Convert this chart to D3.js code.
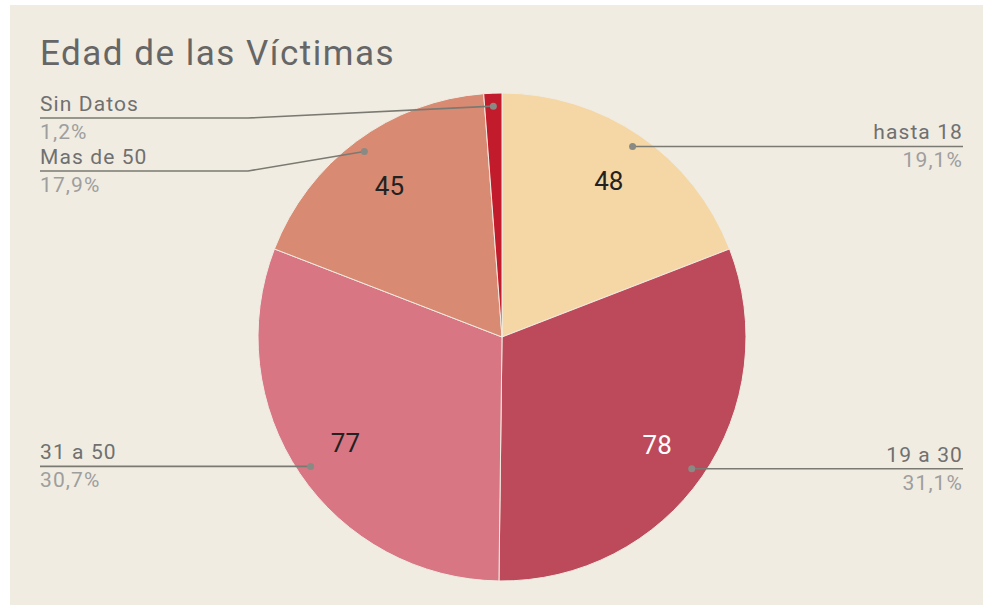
<!DOCTYPE html>
<html>
<head>
<meta charset="utf-8">
<script src="https://cdn.jsdelivr.net/npm/d3@7"></script>
<style>
  html, body { margin: 0; padding: 0; background: #ffffff; }
  svg { display: block; font-family: Roboto, "Open Sans", sans-serif; }
</style>
</head>
<body>
<div id="chart"></div>
<script>
// chart data
const categories = ["hasta 18", "19 a 30", "31 a 50", "Mas de 50", "Sin Datos"];
const values = [48, 78, 77, 45, 3];
const colors = ["#f5d7a6", "#bd4a5a", "#d97684", "#d98a72", "#c21b2c"];
const valueTextColors = ["#222222", "#ffffff", "#222222", "#222222", "#ffffff"];
const title = "Edad de las Víctimas";

const width = 985, height = 606;
const cx = 502, cy = 337, radius = 244;
const bg = "#f0ece2";

const data = categories.map((c, i) => ({ category: c, value: values[i], color: colors[i], textColor: valueTextColors[i] }));
const total = d3.sum(values);

const svg = d3.select("#chart")
    .append("svg")
    .attr("width", width)
    .attr("height", height);

svg.append("rect")
    .attr("x", 10)
    .attr("y", 5)
    .attr("width", 973)
    .attr("height", 600)
    .attr("fill", bg);

svg.append("text")
    .attr("x", 40)
    .attr("y", 65)
    .attr("fill", "#666666")
    .style("font-size", "35px")
    .style("letter-spacing", "1.5px")
    .text(title);

const pie = d3.pie()
    .sort(null)
    .value(d => d.value);

const arcs = pie(data);

const arc = d3.arc()
    .innerRadius(0)
    .outerRadius(radius);

const labelArc = d3.arc()
    .innerRadius(189)
    .outerRadius(189);

const dotArc = d3.arc()
    .innerRadius(231)
    .outerRadius(231);

const g = svg.append("g")
    .attr("transform", `translate(${cx}, ${cy})`);

g.selectAll("path")
    .data(arcs)
    .enter()
    .append("path")
    .attr("d", arc)
    .attr("fill", d => d.data.color)
    .attr("stroke", bg)
    .attr("stroke-width", 1);

// value labels inside the slices (skip very small ones)
g.selectAll("text.value")
    .data(arcs.filter(d => d.data.value / total > 0.05))
    .enter()
    .append("text")
    .attr("class", "value")
    .attr("transform", d => `translate(${labelArc.centroid(d)})`)
    .attr("text-anchor", "middle")
    .attr("dy", "0.36em")
    .attr("fill", d => d.data.textColor)
    .style("font-size", "26px")
    .text(d => d.data.value);

// leader-line layout
const pct = d3.format(".1f");
const items = arcs.map(d => {
    const [dx, dy] = dotArc.centroid(d);
    return { d, x: cx + dx, y: cy + dy, right: dx >= 0 };
});

const gap = 53, minY = 118, maxY = 560;
["left", "right"].forEach(side => {
    const list = items.filter(it => (side === "right") === it.right).sort((a, b) => a.y - b.y);
    let prev = -Infinity;
    list.forEach(it => {
        it.lineY = Math.min(maxY, Math.max(it.y, minY, prev + gap));
        prev = it.lineY;
    });
});

const leftX = 40, rightX = 963;
const labels = svg.append("g");

items.forEach(it => {
    const elbowX = it.right ? cx + radius + 10 : cx - radius - 10;
    const endX = it.right ? rightX : leftX;
    const pts = Math.abs(it.lineY - it.y) < 0.5
        ? [[it.x, it.y], [endX, it.lineY]]
        : [[it.x, it.y], [elbowX, it.lineY], [endX, it.lineY]];

    labels.append("path")
        .attr("d", d3.line()(pts))
        .attr("fill", "none")
        .attr("stroke", "#7a7a72")
        .attr("stroke-width", 1.6);

    labels.append("circle")
        .attr("cx", it.x)
        .attr("cy", it.y)
        .attr("r", 3.5)
        .attr("fill", "#8a8a85");

    const anchor = it.right ? "end" : "start";
    labels.append("text")
        .attr("x", endX)
        .attr("y", it.lineY - 7)
        .attr("text-anchor", anchor)
        .attr("fill", "#707070")
        .style("font-size", "21px")
        .style("letter-spacing", "1.1px")
        .text(it.d.data.category);

    labels.append("text")
        .attr("x", endX)
        .attr("y", it.lineY + 21)
        .attr("text-anchor", anchor)
        .attr("fill", "#9e9e9e")
        .style("font-size", "21px")
        .style("letter-spacing", "1.1px")
        .text(pct(it.d.data.value / total * 100).replace(".", ",") + "%");
});
</script>
</body>
</html>
